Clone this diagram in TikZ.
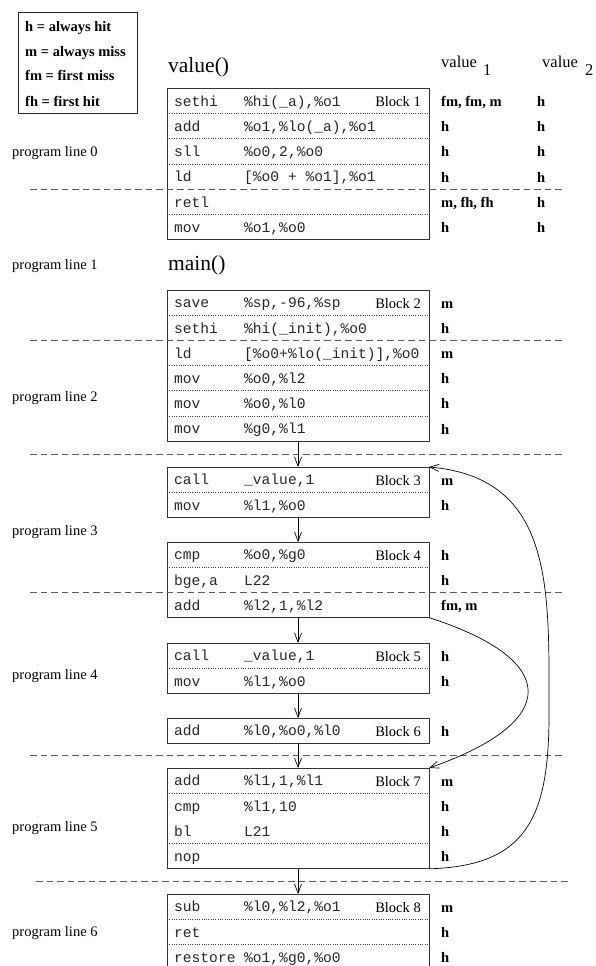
\documentclass[tikz,border=0pt]{standalone}
\usepackage{fontspec}
\setmainfont{Liberation Serif}
\newfontfamily\codefont{Liberation Mono}
\usetikzlibrary{arrows.meta}

\tikzset{
  blockbox/.style={draw=black!80, line width=0.9pt, minimum width=262pt, inner sep=0pt, outer sep=0pt},
  code/.style={anchor=base west, inner sep=0pt, font=\codefont\fontsize{14.6}{16}\selectfont, text=black!85},
  tag/.style={anchor=base east, inner sep=0pt, font=\fontsize{14.5}{16}\selectfont},
  val/.style={anchor=base west, inner sep=0pt, font=\bfseries\fontsize{14.5}{16}\selectfont},
  lineno/.style={anchor=base west, inner sep=0pt, font=\fontsize{14.5}{16}\selectfont},
  title/.style={anchor=base west, inner sep=0pt, font=\fontsize{21.5}{24}\selectfont},
  colhead/.style={anchor=base west, inner sep=0pt, font=\fontsize{16.5}{18}\selectfont},
  progsep/.style={draw=black!65, line width=0.8pt, dash pattern=on 6.5pt off 4pt},
  dotsep/.style={draw=black!75, line width=0.7pt, dash pattern=on 0.7pt off 1.6pt},
  flow/.style={draw=black, line width=0.7pt, -{Straight Barb[length=9pt,width=7pt]}},
}

% one instruction row of a basic block:
% #1 block, #2 row, #3 opcode, #4 operands, #5 block tag, #6 value 1, #7 value 2
\newcommand\crow[7]{%
  \path (#1.north west) ++(7,{(#2-0.5)*25.2+5.3}) node[code] (#1op#2) {#3}
        ++(70,0) node[code] (#1arg#2) {#4};
  \path (#1.north east) ++(-8,{(#2-0.5)*25.2+5.5}) node[tag] (#1tag#2) {#5};
  \path (#1.north east) ++(12,{(#2-0.5)*25.2+5.5}) node[val] (#1va#2) {#6}
        ++(96,0) node[val] (#1vb#2) {#7};
}
% dotted rule below row #2 of block #1
\newcommand\dsep[2]{%
  \draw[dotsep] ([yshift={-#2*25.2pt}]#1.north west) -- ([yshift={-#2*25.2pt}]#1.north east);
}

\begin{document}
\begin{tikzpicture}[x=1pt,y=-1pt]
\fill[white] (0,0) rectangle (595,966);
\useasboundingbox (0,0) rectangle (595,966);

% legend
\node[draw=black!85, line width=0.9pt, minimum width=119pt, minimum height=101pt,
      anchor=north west, inner sep=0pt, outer sep=0pt] (legend) at (18,12) {};
\node[val] (lg1) at (25,32) {h = always hit};
\node[val] (lg2) at (25,56.5) {m = always miss};
\node[val] (lg3) at (25,81) {fm = first miss};
\node[val] (lg4) at (25,106) {fh = first hit};

% headings
\node[title] (fvalue) at (168,72) {value()};
\node[title] (fmain) at (168,270) {main()};
\node[colhead] (hd1) at (441,67) {value};
\node[colhead] (hd1n) at (483,75) {1};
\node[colhead] (hd2) at (542,67) {value};
\node[colhead] (hd2n) at (585,75) {2};

% program line labels
\node[lineno] (pl0) at (12,156) {program line 0};
\node[lineno] (pl1) at (12,269) {program line 1};
\node[lineno] (pl2) at (12,401) {program line 2};
\node[lineno] (pl3) at (12,535) {program line 3};
\node[lineno] (pl4) at (12,679) {program line 4};
\node[lineno] (pl5) at (12,831) {program line 5};
\node[lineno] (pl6) at (12,936) {program line 6};

% basic blocks
\node[blockbox, minimum height=151.2pt] (b1) at (298,163.9) {};
\node[blockbox, minimum height=151.2pt] (b2) at (298,365.6) {};
\node[blockbox, minimum height=50.4pt]  (b3) at (298,492.2) {};
\node[blockbox, minimum height=75.6pt]  (b4) at (298,579.8) {};
\node[blockbox, minimum height=50.4pt]  (b5) at (298,668.2) {};
\node[blockbox, minimum height=25.2pt]  (b6) at (298,730.6) {};
\node[blockbox, minimum height=100.8pt] (b7) at (298,818.4) {};
\node[blockbox, minimum height=75.6pt]  (b8) at (298,931.8) {};

% value()
\crow{b1}{1}{sethi}{\%hi(\_a),\%o1}{Block 1}{fm, fm, m}{h}
\crow{b1}{2}{add}{\%o1,\%lo(\_a),\%o1}{}{h}{h}
\crow{b1}{3}{sll}{\%o0,2,\%o0}{}{h}{h}
\crow{b1}{4}{ld}{[\%o0 + \%o1],\%o1}{}{h}{h}
\crow{b1}{5}{retl}{}{}{m, fh, fh}{h}
\crow{b1}{6}{mov}{\%o1,\%o0}{}{h}{h}
\dsep{b1}{1}\dsep{b1}{2}\dsep{b1}{3}\dsep{b1}{5}

% main()
\crow{b2}{1}{save}{\%sp,-96,\%sp}{Block 2}{m}{}
\crow{b2}{2}{sethi}{\%hi(\_init),\%o0}{}{h}{}
\crow{b2}{3}{ld}{[\%o0+\%lo(\_init)],\%o0}{}{m}{}
\crow{b2}{4}{mov}{\%o0,\%l2}{}{h}{}
\crow{b2}{5}{mov}{\%o0,\%l0}{}{h}{}
\crow{b2}{6}{mov}{\%g0,\%l1}{}{h}{}
\dsep{b2}{1}\dsep{b2}{3}\dsep{b2}{4}\dsep{b2}{5}

\crow{b3}{1}{call}{\_value,1}{Block 3}{m}{}
\crow{b3}{2}{mov}{\%l1,\%o0}{}{h}{}
\dsep{b3}{1}

\crow{b4}{1}{cmp}{\%o0,\%g0}{Block 4}{h}{}
\crow{b4}{2}{bge,a}{L22}{}{h}{}
\crow{b4}{3}{add}{\%l2,1,\%l2}{}{fm, m}{}
\dsep{b4}{1}

\crow{b5}{1}{call}{\_value,1}{Block 5}{h}{}
\crow{b5}{2}{mov}{\%l1,\%o0}{}{h}{}
\dsep{b5}{1}

\crow{b6}{1}{add}{\%l0,\%o0,\%l0}{Block 6}{h}{}

\crow{b7}{1}{add}{\%l1,1,\%l1}{Block 7}{m}{}
\crow{b7}{2}{cmp}{\%l1,10}{}{h}{}
\crow{b7}{3}{bl}{L21}{}{h}{}
\crow{b7}{4}{nop}{}{}{h}{}
\dsep{b7}{1}\dsep{b7}{3}

\crow{b8}{1}{sub}{\%l0,\%l2,\%o1}{Block 8}{m}{}
\crow{b8}{2}{ret}{}{}{h}{}
\crow{b8}{3}{restore}{\%o1,\%g0,\%o0}{}{h}{}
\dsep{b8}{1}\dsep{b8}{2}

% program line boundaries
\draw[progsep] (30,189.1) -- (563,189.1);
\draw[progsep] (30,340.4) -- (563,340.4);
\draw[progsep] (30,454) -- (563,454);
\draw[progsep] (30,592.4) -- (563,592.4);
\draw[progsep] (30,755.6) -- (563,755.6);
\draw[progsep] (36,881.5) -- (569,881.5);

% control flow
\draw[flow] (b2.south) -- (b3.north);
\draw[flow] (b3.south) -- (b4.north);
\draw[flow] (b4.south) -- (b5.north);
\draw[flow] (b5.south) -- (b6.north);
\draw[flow] (b6.south) -- (b7.north);
\draw[flow] (b7.south) -- (b8.north);
\draw[flow] (b4.south east) .. controls (561,660) and (561,722) .. (b7.north east);
\coordinate (loopturn) at (549,715);
\draw[flow] (b7.south east) .. controls (525,866) and (549,820) .. (loopturn)
            .. controls (549,590) and (555,478) .. (b3.north east);
\end{tikzpicture}
\end{document}
